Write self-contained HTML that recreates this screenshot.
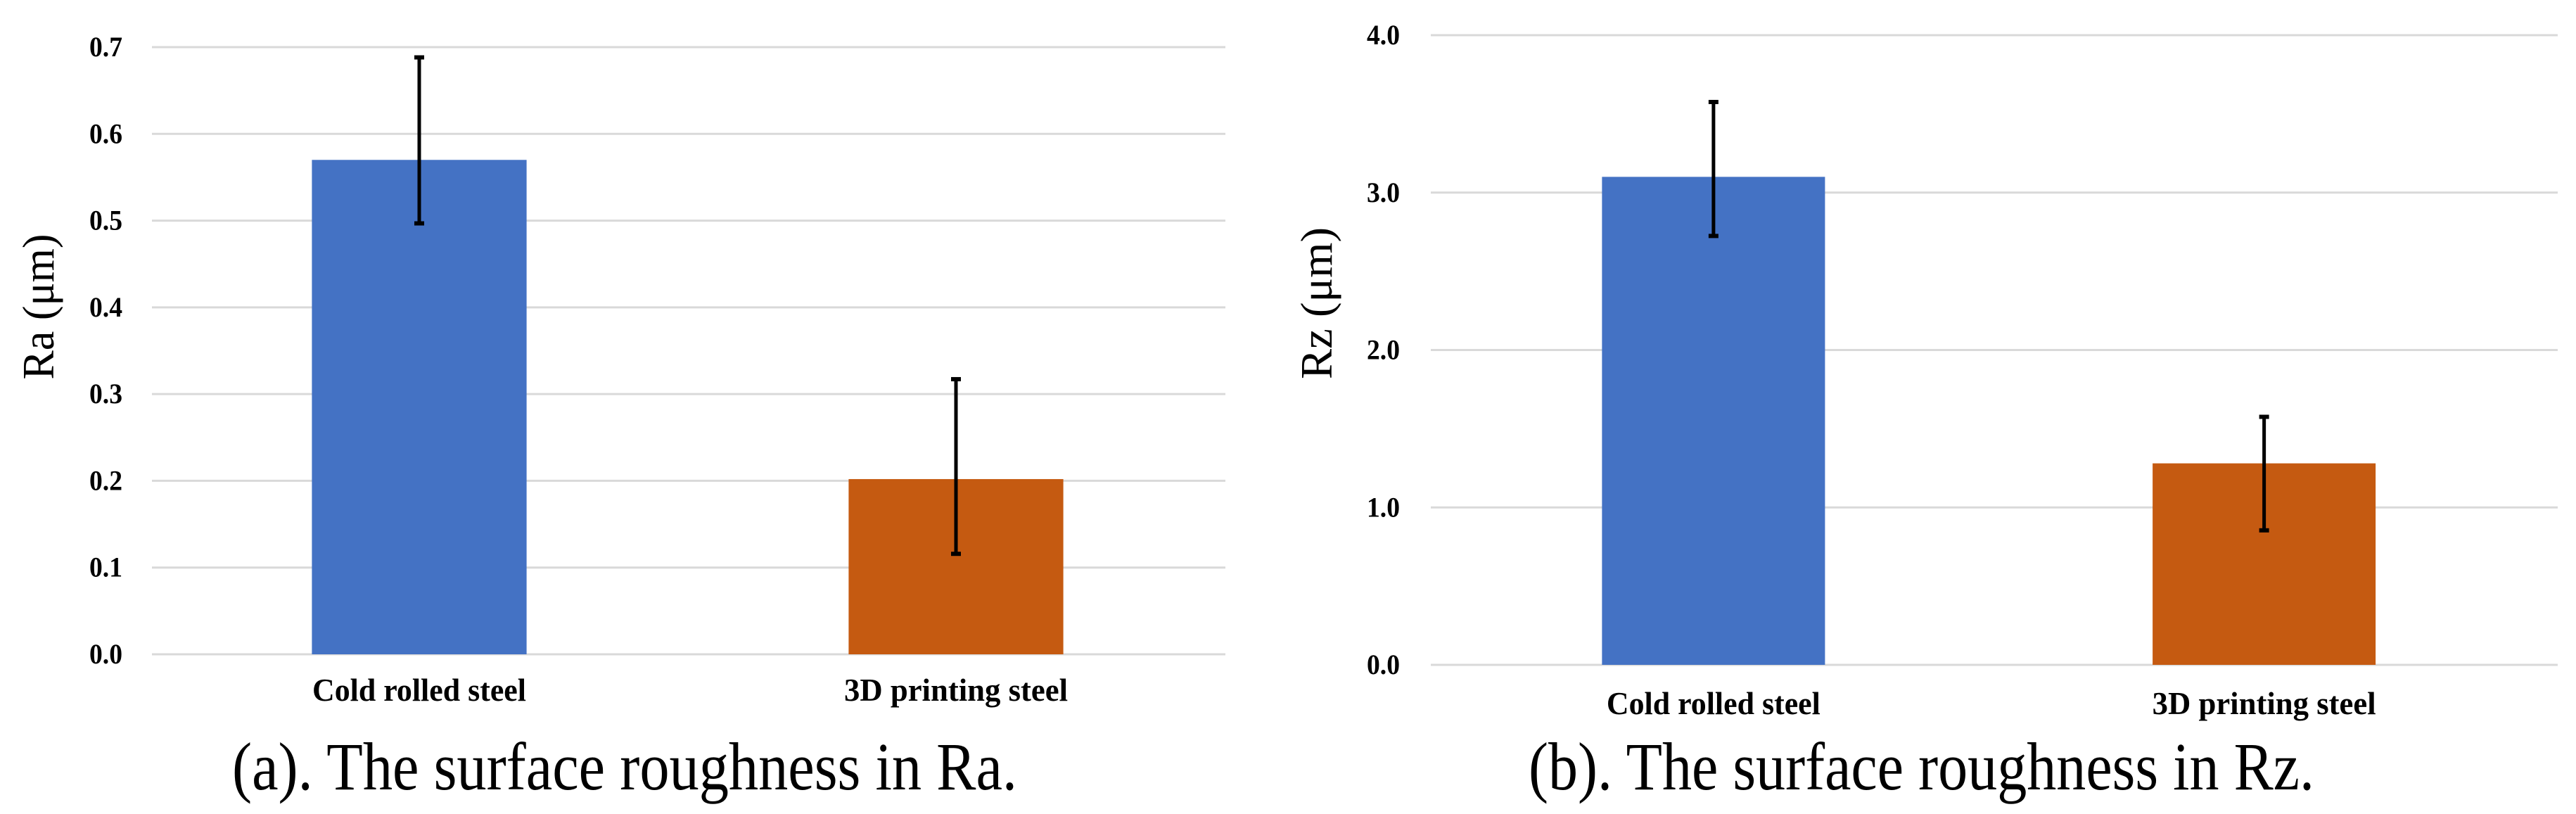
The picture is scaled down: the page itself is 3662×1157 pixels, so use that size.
<!DOCTYPE html>
<html><head><meta charset="utf-8"><style>
html,body{margin:0;padding:0;background:#fff;}
svg{display:block;}
text{font-family:"Liberation Serif",serif;fill:#000;}
</style></head>
<body>
<svg id="fig" width="3662" height="1157" viewBox="0 0 3662 1157" xmlns="http://www.w3.org/2000/svg"></svg>
<script>
const categories = ["Cold rolled steel", "3D printing steel"];
const raValues = [0.57, 0.202];
const raErrHigh = [0.689, 0.318];
const raErrLow = [0.496, 0.115];
const raTicks = [0.0, 0.1, 0.2, 0.3, 0.4, 0.5, 0.6, 0.7];
const rzValues = [3.10, 1.28];
const rzErrHigh = [3.58, 1.58];
const rzErrLow = [2.72, 0.85];
const rzTicks = [0.0, 1.0, 2.0, 3.0, 4.0];
const barColors = ["#4472c4", "#c55a11"];

const NS = "http://www.w3.org/2000/svg";
const svg = document.getElementById("fig");
function mk(tag, attrs, parent) {
  const e = document.createElementNS(NS, tag);
  for (const k in attrs) e.setAttribute(k, attrs[k]);
  (parent || svg).appendChild(e);
  return e;
}

function drawChart(cfg) {
  const g = mk("g", {});
  
  
  const yMax = cfg.ticks[cfg.ticks.length - 1];
  const y = v => cfg.y0 - (cfg.y0 - cfg.yTop) * v / yMax;
  const band = (cfg.x1 - cfg.x0) / categories.length;
  const xc = i => cfg.x0 + band * (i + 0.5);
  cfg.ticks.forEach(t => {
    const ln = mk("line", {x1: cfg.gx0, x2: cfg.gx1, y1: y(t), y2: y(t), stroke: "#d9d9d9", "stroke-width": 3}, g);
    
    
    const tx = mk("text", {x: cfg.tickX, y: y(t) + 13, "text-anchor": "end", "font-size": 40, "font-weight": "bold", textLength: 47, lengthAdjust: "spacingAndGlyphs"}, g);
    tx.textContent = t.toFixed(1);
    
    
  });
  categories.forEach((c, i) => {
    const w = band * cfg.barFrac;
    const r = mk("rect", {x: xc(i) - w / 2, y: y(cfg.values[i]), width: w, height: y(0) - y(cfg.values[i]), fill: barColors[i]}, g);
    
    
    const eg = mk("g", {}, g);
    
    
    const hi = y(cfg.hi[i]), lo = y(cfg.lo[i]);
    mk("line", {x1: xc(i), x2: xc(i), y1: hi, y2: lo, stroke: "#000", "stroke-width": 5}, eg);
    mk("line", {x1: xc(i) - 7, x2: xc(i) + 7, y1: hi + 1, y2: hi + 1, stroke: "#000", "stroke-width": 6}, eg);
    mk("line", {x1: xc(i) - 7, x2: xc(i) + 7, y1: lo - 1, y2: lo - 1, stroke: "#000", "stroke-width": 6}, eg);
    const lb = mk("text", {x: xc(i), y: cfg.catY, "text-anchor": "middle", "font-size": 46, "font-weight": "bold", textLength: i === 0 ? 304 : 318, lengthAdjust: "spacingAndGlyphs"}, g);
    lb.textContent = c;
    
    
  });
  const tt = mk("text", {x: 0, y: 0, "text-anchor": "middle", "font-size": 64, textLength: cfg.titleLen, lengthAdjust: "spacingAndGlyphs", transform: `translate(${cfg.titleX},${cfg.titleY}) rotate(-90)`}, g);
  tt.textContent = cfg.title;
  
  
  const cap = mk("text", {x: cfg.capX, y: 1122, "font-size": 96, textLength: cfg.capLen, lengthAdjust: "spacingAndGlyphs"}, g);
  cap.textContent = cfg.caption;
  
  
}

drawChart({name: "ra-chart", values: raValues, hi: raErrHigh, lo: raErrLow, ticks: raTicks,
  y0: 930, yTop: 67, x0: 214.5, x1: 1740.5, gx0: 216, gx1: 1742, barFrac: 0.40, tickX: 174, catY: 996,
  title: "Ra (μm)", titleX: 76, titleY: 436, titleLen: 207,
  caption: "(a). The surface roughness in Ra.", capX: 330, capLen: 1116});
drawChart({name: "rz-chart", values: rzValues, hi: rzErrHigh, lo: rzErrLow, ticks: rzTicks,
  y0: 945, yTop: 50, x0: 2044.5, x1: 3610, gx0: 2034, gx1: 3636, barFrac: 0.405, tickX: 1990, catY: 1015,
  title: "Rz (μm)", titleX: 1893, titleY: 431, titleLen: 216,
  caption: "(b). The surface roughness in Rz.", capX: 2173, capLen: 1117});
</script>
</body></html>
